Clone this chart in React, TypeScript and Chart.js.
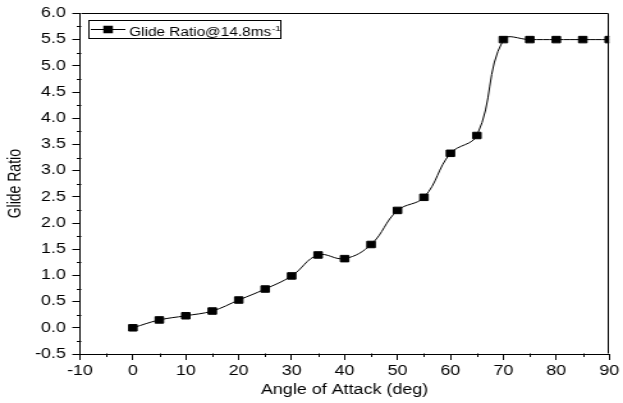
import React, { useEffect, useRef } from "react";
import { Chart, registerables } from "chart.js";

Chart.register(...registerables);

// ---- data ----
const angles = [0, 5, 10, 15, 20, 25, 30, 35, 40, 45, 50, 55, 60, 65, 70, 75, 80, 85, 90];
const glideRatio = [0.0, 0.15, 0.23, 0.32, 0.53, 0.74, 0.99, 1.39, 1.32, 1.59, 2.24, 2.49, 3.33, 3.67, 5.5, 5.5, 5.5, 5.5, 5.5];
const seriesLabel = "Glide Ratio@14.8ms";
const seriesLabelSup = "-1";
const xTitle = "Angle of Attack (deg)";
const yTitle = "Glide Ratio";
const xMin = -10, xMax = 90, xStep = 10;
const yMin = -0.5, yMax = 6.0, yStep = 0.5;

// ---- layout ----
const OUT_W = 623;
const OUT_H = 403;
const STRETCH = 1.28;
const W = Math.round(OUT_W / STRETCH);
const H = OUT_H;
const FONT = "'Liberation Sans', Arial, Helvetica, sans-serif";

const framePlugin = {
  id: "frameAndMinor",
  afterDraw(chart: any) {
    const { ctx, chartArea } = chart;
    const xs = chart.scales.x;
    const ys = chart.scales.y;
    const L = Math.round(chartArea.left) + 0.5;
    const R = Math.round(chartArea.right) - 0.5;
    const T = Math.round(chartArea.top) + 0.5;
    const B = Math.round(chartArea.bottom) - 0.5;
    ctx.save();
    ctx.strokeStyle = "#000";
    ctx.lineWidth = 1;
    ctx.beginPath();
    ctx.moveTo(L, T);
    ctx.lineTo(R, T);
    ctx.lineTo(R, B);
    ctx.stroke();
    // minor ticks
    ctx.beginPath();
    for (let v = xMin + xStep / 2; v < xMax; v += xStep) {
      const px = Math.round(xs.getPixelForValue(v)) + 0.5;
      ctx.moveTo(px, B);
      ctx.lineTo(px, B + 3.5);
    }
    for (let v = yMin + yStep / 2; v < yMax; v += yStep) {
      const py = Math.round(ys.getPixelForValue(v)) + 0.5;
      ctx.moveTo(L, py);
      ctx.lineTo(L - 3.5, py);
    }
    ctx.stroke();

    // legend
    const bx = 69.5, by = 20.5, bw = 150, bh = 18;
    ctx.fillStyle = "#fff";
    ctx.fillRect(bx, by, bw, bh);
    ctx.strokeRect(bx, by, bw, bh);
    const ly = by + bh / 2;
    ctx.beginPath();
    ctx.moveTo(bx + 1.5, ly);
    ctx.lineTo(bx + 28.5, ly);
    ctx.stroke();
    ctx.fillStyle = "#000";
    const s = 7.5;
    ctx.fillRect(bx + 15 - s / 2, ly - s / 2, s, s);
    ctx.font = `12px ${FONT}`;
    ctx.textBaseline = "alphabetic";
    ctx.textAlign = "left";
    const tx = bx + 31.5;
    const baseY = by + 15.5;
    ctx.fillText(seriesLabel, tx, baseY);
    const tw = ctx.measureText(seriesLabel).width;
    ctx.font = `8px ${FONT}`;
    ctx.fillText(seriesLabelSup, tx + tw + 0.5, baseY - 5);
    ctx.restore();
  },
};

export default function App() {
  const ref = useRef<HTMLCanvasElement | null>(null);

  useEffect(() => {
    document.body.style.margin = "0";
    const canvas = ref.current;
    if (!canvas) return;
    const chart = new Chart(canvas, {
      type: "line",
      data: {
        datasets: [
          {
            label: seriesLabel,
            data: angles.map((a, i) => ({ x: a, y: glideRatio[i] })),
            borderColor: "#000",
            backgroundColor: "#000",
            borderWidth: 1,
            pointStyle: "rect",
            pointRadius: 4.6,
            pointBorderWidth: 1,
            pointBorderColor: "#000",
            pointBackgroundColor: "#000",
            tension: 0.4,
            fill: false,
          },
        ],
      },
      options: {
        animation: false,
        responsive: false,
        maintainAspectRatio: false,
        devicePixelRatio: 1,
        layout: { padding: { left: 0, top: 13, right: 8.6, bottom: 0 } },
        plugins: {
          legend: { display: false },
          tooltip: { enabled: false },
        },
        scales: {
          x: {
            type: "linear",
            min: xMin,
            max: xMax,
            afterFit: (scale: any) => {
              scale.height = 49;
            },
            ticks: {
              stepSize: xStep,
              color: "#000",
              font: { family: FONT, size: 14 },
              padding: 3,
              maxRotation: 0,
              callback: (v: any) => String(v),
            },
            grid: {
              drawOnChartArea: false,
              drawTicks: true,
              tickLength: 6,
              color: "#000",
              lineWidth: 1,
            },
            border: { display: true, color: "#000", width: 1 },
            title: {
              display: true,
              text: xTitle,
              color: "#000",
              font: { family: FONT, size: 14 },
              padding: { top: 0, bottom: 4 },
            },
          },
          y: {
            type: "linear",
            min: yMin,
            max: yMax,
            afterFit: (scale: any) => {
              scale.width = 62.5;
            },
            ticks: {
              stepSize: yStep,
              color: "#000",
              font: { family: FONT, size: 14 },
              padding: 5,
              callback: (v: any) => Number(v).toFixed(1),
            },
            grid: {
              drawOnChartArea: false,
              drawTicks: true,
              tickLength: 6,
              color: "#000",
              lineWidth: 1,
            },
            border: { display: true, color: "#000", width: 1 },
            title: {
              display: true,
              text: yTitle,
              color: "#000",
              font: { family: FONT, size: 14 },
              padding: { top: 3.5, bottom: 0 },
            },
          },
        },
      },
      plugins: [framePlugin],
    });
    return () => chart.destroy();
  }, []);

  return (
    <div style={{ width: OUT_W, height: OUT_H, background: "#fff" }}>
      <canvas
        ref={ref}
        width={W}
        height={H}
        style={{ width: `${OUT_W}px`, height: `${OUT_H}px`, display: "block" }}
      />
    </div>
  );
}
